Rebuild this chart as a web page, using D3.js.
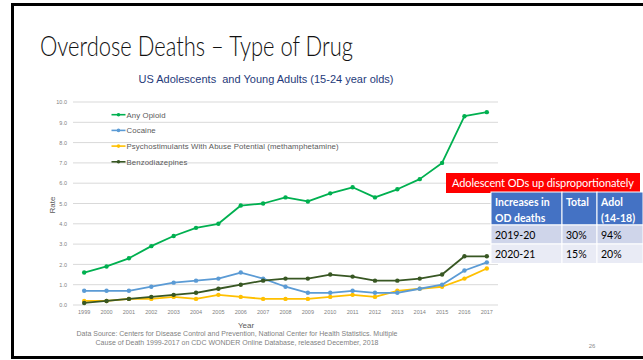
<!DOCTYPE html>
<html>
<head>
<meta charset="utf-8">
<script src="https://cdn.jsdelivr.net/npm/d3@7/dist/d3.min.js"></script>
<style>
  html, body { margin: 0; padding: 0; background: #fff; }
  svg { display: block; }
</style>
</head>
<body>
<svg id="slide" width="643" height="360"></svg>
<script>
// Overdose death rates per 100,000, ages 15-24, by drug type
const years = ["1999","2000","2001","2002","2003","2004","2005","2006","2007","2008",
               "2009","2010","2011","2012","2013","2014","2015","2016","2017"];
const anyOpioid   = [1.6,1.9,2.3,2.9,3.4,3.8,4.0,4.9,5.0,5.3,5.1,5.5,5.8,5.3,5.7,6.2,7.0,9.3,9.5];
const cocaine     = [0.7,0.7,0.7,0.9,1.1,1.2,1.3,1.6,1.3,0.9,0.6,0.6,0.7,0.6,0.6,0.8,1.0,1.7,2.1];
const psychostim  = [0.2,0.2,0.3,0.3,0.4,0.3,0.5,0.4,0.3,0.3,0.3,0.4,0.5,0.4,0.7,0.8,0.9,1.3,1.8];
const benzos      = [0.1,0.2,0.3,0.4,0.5,0.6,0.8,1.0,1.2,1.3,1.3,1.5,1.4,1.2,1.2,1.3,1.5,2.4,2.4];
const seriesNames = ["Any Opioid","Cocaine",
                     "Psychostimulants With Abuse Potential (methamphetamine)","Benzodiazepines"];
const seriesColors = ["#00B050","#5B9BD5","#FFC000","#385723"];
const yTicks = [0,1,2,3,4,5,6,7,8,9,10];

// Summary table
const tableHeader = [["Increases in","OD deaths"],["Total"],["Adol","(14-18)"]];
const tableRows = [["2019-20","30%","94%"],["2020-21","15%","20%"]];

const svg = d3.select("#slide");
const sans = "'Liberation Sans', Arial, sans-serif";
const font = "Lato, 'Open Sans', sans-serif";

// slide frame
svg.append("rect").attr("x",12.5).attr("y",4.5).attr("width",640).attr("height",353)
  .attr("fill","none").attr("stroke","#000").attr("stroke-width",3);

// titles
svg.append("text").attr("x",40).attr("y",56)
  .style("font-family",font).style("font-weight",300)
  .style("font-size","28px").attr("fill","#111")
  .attr("textLength",313).attr("lengthAdjust","spacingAndGlyphs")
  .text("Overdose Deaths \u2013 Type of Drug");
svg.append("text").attr("x",266).attr("y",82.5).attr("text-anchor","middle")
  .style("font-family",sans).style("font-size","11px")
  .attr("fill","#1F3A7A").style("white-space","pre")
  .text("US Adolescents  and Young Adults (15-24 year olds)");

// chart
const x = d3.scaleBand().domain(years).range([73,498]);
const y = d3.scaleLinear().domain([0,10]).range([305,102]);
const cx = d => x(d) + x.bandwidth()/2;

const g = svg.append("g");
g.selectAll("line.grid").data(yTicks).join("line").attr("class","grid")
  .attr("x1",73).attr("x2",498).attr("y1",d=>y(d)).attr("y2",d=>y(d))
  .attr("stroke","#D9D9D9").attr("stroke-width",1);

const yAxis = g.append("g").attr("transform","translate(73,0)")
  .call(d3.axisLeft(y).tickValues(yTicks).tickFormat(d3.format(".1f")).tickSize(0).tickPadding(6));
yAxis.select(".domain").remove();
yAxis.selectAll("text").style("font-family",sans)
  .style("font-size","5.5px").attr("fill","#7F7F7F");

const xAxis = g.append("g").attr("transform","translate(0,305)")
  .call(d3.axisBottom(x).tickSize(0).tickPadding(5));
xAxis.select(".domain").remove();
xAxis.selectAll("text").style("font-family",sans)
  .style("font-size","5.5px").attr("fill","#7F7F7F");

const allSeries = [anyOpioid, cocaine, psychostim, benzos];
const line = d3.line().x((d,i)=>cx(years[i])).y(d=>y(d));
// draw back-to-front so opioid stays on top
[2,1,3,0].forEach(k => {
  const s = allSeries[k];
  g.append("path").datum(s).attr("d",line).attr("fill","none")
    .attr("stroke",seriesColors[k]).attr("stroke-width",1.8).attr("stroke-linejoin","round");
  g.selectAll(null).data(s).join("circle")
    .attr("cx",(d,i)=>cx(years[i])).attr("cy",d=>y(d)).attr("r",2.2)
    .attr("fill",seriesColors[k]);
});

// legend
const leg = g.append("g");
seriesNames.forEach((name,i) => {
  const ly = 114.7 + i*15.7;
  leg.append("line").attr("x1",111.5).attr("x2",125.5).attr("y1",ly).attr("y2",ly)
    .attr("stroke",seriesColors[i]).attr("stroke-width",1.6);
  leg.append("circle").attr("cx",118.5).attr("cy",ly).attr("r",1.8).attr("fill",seriesColors[i]);
  leg.append("text").attr("x",126.5).attr("y",ly+2.8)
    .style("font-family",sans).style("font-size","7.8px").style("letter-spacing","0.1px")
    .attr("fill","#595959").text(name);
});

// axis titles
svg.append("text").attr("transform","translate(55,205) rotate(-90)").attr("text-anchor","middle")
  .style("font-family",sans).style("font-size","8px")
  .attr("fill","#595959").text("Rate");
svg.append("text").attr("x",246).attr("y",328).attr("text-anchor","middle")
  .style("font-family",sans).style("font-size","8px")
  .attr("fill","#595959").text("Year");

// source note
const src = ["Data Source: Centers for Disease Control and Prevention, National Center for Health Statistics. Multiple",
             "Cause of Death 1999-2017 on CDC WONDER Online Database, released December, 2018"];
src.forEach((t,i) => {
  svg.append("text").attr("x",237).attr("y",336 + i*9.3).attr("text-anchor","middle")
    .style("font-family",sans).style("font-size","7px")
    .attr("fill","#7F7F7F").text(t);
});
svg.append("text").attr("x",592).attr("y",348).attr("text-anchor","middle")
  .style("font-family",sans).style("font-size","6px")
  .attr("fill","#8C8C8C").text("26");

// banner + table
svg.append("rect").attr("x",446).attr("y",173).attr("width",194).attr("height",20).attr("fill","#FF0000");
svg.append("text").attr("x",452).attr("y",186.8)
  .style("font-family",font).style("font-size","11px")
  .attr("textLength",182).attr("lengthAdjust","spacing")
  .attr("fill","#fff").text("Adolescent ODs up disproportionately");

const colX = [491, 562, 597, 643];
const rowY = [192, 225, 244, 263.5];
const tbl = svg.append("g");
for (let c=0;c<3;c++) {
  tbl.append("rect").attr("x",colX[c]).attr("y",rowY[0]).attr("width",colX[c+1]-colX[c])
    .attr("height",rowY[1]-rowY[0]).attr("fill","#4472C4").attr("stroke","#fff").attr("stroke-width",1);
  tableHeader[c].forEach((t,j) => {
    tbl.append("text").attr("x",colX[c]+4).attr("y",206+j*15.5)
      .style("font-family",font).style("font-size","10.5px").style("font-weight",700)
      .attr("fill","#fff").text(t);
  });
}
tableRows.forEach((row,r) => {
  for (let c=0;c<3;c++) {
    tbl.append("rect").attr("x",colX[c]).attr("y",rowY[r+1]).attr("width",colX[c+1]-colX[c])
      .attr("height",rowY[r+2]-rowY[r+1]).attr("fill",r===0?"#CFD5EA":"#E9EBF5")
      .attr("stroke","#fff").attr("stroke-width",1);
    tbl.append("text").attr("x",colX[c]+4).attr("y",238.5+r*19)
      .style("font-family",font).style("font-size","10.5px").attr("fill","#000").text(row[c]);
  }
});
</script>
</body>
</html>
